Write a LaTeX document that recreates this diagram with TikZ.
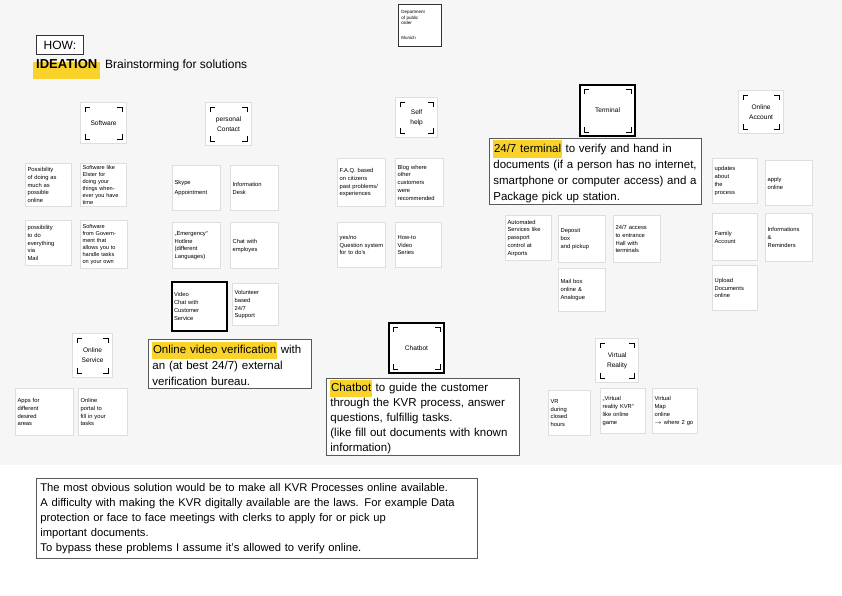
\documentclass[tikz,border=0pt]{standalone}
\usepackage{fontspec}
\setmainfont{Liberation Sans}
\hyphenpenalty=10000
\definecolor{hly}{HTML}{F9D32A}
\definecolor{boardbg}{HTML}{F6F6F6}
\newcommand{\hlt}[1]{{\setlength{\fboxsep}{0.6pt}\colorbox{hly}{\strut #1}}}
\tikzset{
  x=1pt, y=-1pt,
  note/.style={draw=black!13, line width=1.2pt, fill=white, anchor=north west,
    inner xsep=3pt, inner ysep=2pt, align=left,
    font=\fontsize{5.8}{7.8}\selectfont},
  dense/.style={font=\fontsize{5.6}{6.9}\selectfont},
  headnote/.style={note, align=center, font=\fontsize{6.6}{10}\selectfont},
  thickbox/.style={draw=black, line width=2pt},
  typed/.style={draw=black!65, line width=0.8pt, fill=white, anchor=north west,
    inner xsep=4pt, inner ysep=2pt, align=left},
  corner/.style={line width=0.7pt, black}
}
\newcommand{\snote}[7][]{\pgfmathsetmacro\tw{#5-4}%
  \node[note, text width=\tw pt, inner xsep=2pt, minimum width=#5, minimum height=#6, #1] (#2) at (#3,#4) {#7};}
\newcommand{\hnote}[7][]{\pgfmathsetmacro\tw{#5-6}%
  \node[headnote, text width=\tw pt, minimum width=#5, minimum height=#6, #1] (#2) at (#3,#4) {#7};
  \draw[corner] ([shift={(5,10)}]#2.north west) -- ([shift={(5,5)}]#2.north west) -- ([shift={(10,5)}]#2.north west);
  \draw[corner] ([shift={(-10,5)}]#2.north east) -- ([shift={(-5,5)}]#2.north east) -- ([shift={(-5,10)}]#2.north east);
  \draw[corner] ([shift={(5,-10)}]#2.south west) -- ([shift={(5,-5)}]#2.south west) -- ([shift={(10,-5)}]#2.south west);
  \draw[corner] ([shift={(-10,-5)}]#2.south east) -- ([shift={(-5,-5)}]#2.south east) -- ([shift={(-5,-10)}]#2.south east);}
\newcommand{\tbox}[7][]{\pgfmathsetmacro\tw{#5-8}%
  \node[typed, text width=\tw pt, minimum width=#5, minimum height=#6, #1] (#2) at (#3,#4) {#7};}
\begin{document}
\begin{tikzpicture}
\useasboundingbox (0,0) rectangle (842,595);
\fill[white] (0,0) rectangle (842,595);
\fill[boardbg] (0,0) rectangle (842,465);

% title
\node[draw=black!80, line width=0.8pt, fill=white, anchor=north west, minimum width=47, minimum height=19, inner sep=0pt, font=\fontsize{12}{14}\selectfont] (how) at (36,35) {HOW:};
\fill[hly] (33,62) rectangle (100,79);
\node[anchor=base west, inner sep=0pt, font=\bfseries\fontsize{13}{15}\selectfont] (ideation) at (36,68) {IDEATION};
\node[anchor=base west, inner sep=0pt, font=\fontsize{12}{14}\selectfont] (brain) at (105,68) {Brainstorming for solutions};

% department note
\node[draw=black!80, line width=0.6pt, fill=white, anchor=north west, minimum width=43, minimum height=42, text width=37pt, inner xsep=3pt, inner ysep=3pt, align=left, font=\fontsize{4.5}{5.4}\selectfont] (dept) at (398,4) {Department\\of public\\order\\[10pt]Munich};

% headers
\hnote{software}{80}{102}{46}{41}{Software}
\hnote{personal}{205}{102}{46}{43}{personal\\Contact}
\hnote{selfhelp}{395}{97}{42}{40}{Self\\help}
\hnote[thickbox]{terminal}{579}{84}{55}{51}{Terminal}
\hnote{account}{738}{90}{45}{43}{Online\\Account}
\hnote{service}{72}{333}{40}{44}{Online\\Service}
\hnote[thickbox]{chatbot}{388}{322}{55}{50}{Chatbot}
\hnote{virtual}{595}{338}{43}{44}{Virtual\\Reality}

% software ideas
\snote{s1}{25}{163}{46}{43}{Possibility\\of doing as\\much as\\possible\\online}
\snote[dense]{s2}{80}{163}{46}{43}{Software like\\Elster for\\doing your\\things when-\\ever you have\\time}
\snote{s3}{25}{220}{46}{45}{possibility\\to do\\everything\\via\\Mail}
\snote[dense]{s4}{80}{220}{47}{48}{Software\\from Govern-\\ment that\\allows you to\\handle tasks\\on your own}

% personal contact ideas
\snote{p1}{172}{165}{48}{45}{Skype\\[2pt]Appointment}
\snote{p2}{230}{165}{48}{45}{Information\\Desk}
\snote{p3}{172}{222}{48}{46}{„Emergency“\\Hotline\\(different\\Languages)}
\snote{p4}{230}{222}{48}{46}{Chat with\\employes}
\snote[thickbox]{p5}{171}{281}{55}{49}{Video\\Chat with\\Customer\\Service}
\snote{p6}{232}{283}{46}{42}{Volunteer\\based\\24/7\\Support}

% self help ideas
\snote{h1}{337}{158}{48}{48}{F.A.Q. based\\on citizens\\past problems/\\experiences}
\snote{h2}{395}{158}{48}{48}{Blog where\\other\\customers\\were\\recommended}
\snote{h3}{337}{222}{48}{45}{yes/no\\Question system\\for to do's}
\snote{h4}{395}{222}{46}{45}{How-to\\Video\\Series}

% terminal ideas
\snote{t1}{505}{215}{46}{45}{Automated\\Services like\\passport\\control at\\Airports}
\snote{t2}{558}{215}{47}{47}{Deposit\\box\\and pickup}
\snote{t3}{613}{215}{47}{47}{24/7 access\\to entrance\\Hall with\\terminals}
\snote{t4}{558}{268}{47}{43}{Mail box\\online \&\\Analogue}

% online account ideas
\snote{a1}{712}{158}{45}{45}{updates\\about\\the\\process}
\snote{a2}{765}{160}{47}{45}{apply\\online}
\snote{a3}{712}{213}{45}{47}{Family\\Account}
\snote{a4}{765}{213}{47}{48}{Informations\\\&\\Reminders}
\snote{a5}{712}{265}{45}{45}{Upload\\Documents\\online}

% online service ideas
\snote{o1}{15}{388}{58}{47}{Apps for\\different\\desired\\areas}
\snote{o2}{78}{388}{49}{47}{Online\\portal to\\fill in your\\tasks}

% virtual reality ideas
\snote{v1}{548}{390}{42}{45}{VR\\during\\closed\\hours}
\snote{v2}{600}{388}{45}{45}{„Virtual\\reality KVR“\\like online\\game}
\snote{v3}{652}{388}{45}{45}{Virtual\\Map\\online\\$\to$ where 2 go}

% typed explanation boxes
\tbox[font=\fontsize{11.5}{16}\selectfont]{termtext}{489}{138}{212}{64}{\hlt{24/7 terminal} to verify and hand in\\documents (if a person has no internet,\\smartphone or computer access) and a\\Package pick up station.}
\tbox[font=\fontsize{11.5}{16}\selectfont]{videotext}{148}{339}{163}{49}{\hlt{Online video verification} with\\an (at best 24/7) external\\verification bureau.}
\tbox[font=\fontsize{11.5}{15}\selectfont]{chattext}{326}{378}{193}{76}{\hlt{Chatbot} to guide the customer\\through the KVR process, answer\\questions, fulfillig tasks.\\(like fill out documents with known\\information)}
\tbox[font=\fontsize{11.2}{15}\selectfont]{summary}{36}{478}{441}{80}{The most obvious solution would be to make all KVR Processes online available.\\A difficulty with making the KVR digitally available are the laws. For example Data\\protection or face to face meetings with clerks to apply for or pick up\\important documents.\\To bypass these problems I assume it's allowed to verify online.}
\end{tikzpicture}
\end{document}
